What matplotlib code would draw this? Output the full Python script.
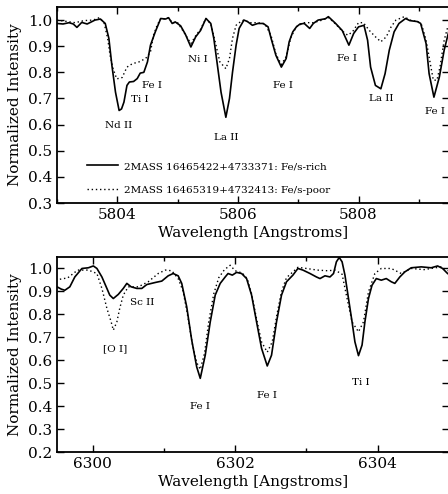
import matplotlib
matplotlib.use("Agg")
import matplotlib.pyplot as plt
from matplotlib.ticker import MultipleLocator

plt.rcParams['font.family'] = ['DejaVu Serif']

# ---------------- Top panel data ----------------
top_rich_wl = [5803.00, 5803.10, 5803.20, 5803.27, 5803.33, 5803.41, 5803.50, 5803.63, 5803.72, 5803.80,
               5803.86, 5803.91, 5803.97, 5804.03, 5804.07, 5804.11, 5804.16, 5804.20, 5804.27, 5804.33,
               5804.38, 5804.44, 5804.50, 5804.55, 5804.63, 5804.72, 5804.80, 5804.85, 5804.91, 5804.96,
               5805.05, 5805.13, 5805.22, 5805.30, 5805.38, 5805.47, 5805.55, 5805.60, 5805.66, 5805.72,
               5805.80, 5805.86, 5805.91, 5805.97, 5806.02, 5806.10, 5806.16, 5806.24, 5806.33, 5806.42,
               5806.50, 5806.55, 5806.63, 5806.72, 5806.80, 5806.85, 5806.91, 5806.97, 5807.03, 5807.10,
               5807.19, 5807.25, 5807.33, 5807.45, 5807.50, 5807.62, 5807.73, 5807.84, 5807.92, 5808.00,
               5808.09, 5808.15, 5808.20, 5808.28, 5808.37, 5808.44, 5808.51, 5808.59, 5808.67, 5808.78,
               5808.85, 5808.98, 5809.03, 5809.12, 5809.17, 5809.25, 5809.34, 5809.42, 5809.50]
top_rich_int = [0.987, 0.985, 0.990, 0.985, 0.972, 0.991, 0.985, 1.000, 1.004, 0.987,
                0.930, 0.827, 0.724, 0.654, 0.660, 0.686, 0.750, 0.763, 0.765, 0.776,
                0.797, 0.800, 0.840, 0.904, 0.955, 1.006, 1.004, 1.009, 0.987, 0.993,
                0.978, 0.945, 0.897, 0.936, 0.960, 1.006, 0.987, 0.930, 0.827, 0.724,
                0.628, 0.700, 0.800, 0.904, 0.968, 1.000, 0.994, 0.980, 0.987, 0.987,
                0.974, 0.930, 0.865, 0.820, 0.853, 0.917, 0.955, 0.974, 0.985, 0.987,
                0.968, 0.987, 1.000, 1.005, 1.013, 0.987, 0.960, 0.904, 0.949, 0.974,
                0.980, 0.923, 0.820, 0.750, 0.737, 0.795, 0.885, 0.955, 0.987, 1.006,
                0.998, 0.994, 0.987, 0.910, 0.795, 0.705, 0.782, 0.885, 0.960]

top_poor_wl = [5803.00, 5803.15, 5803.30, 5803.45, 5803.60, 5803.70, 5803.78, 5803.84, 5803.88, 5803.93,
               5803.99, 5804.08, 5804.16, 5804.25, 5804.36, 5804.47, 5804.55, 5804.60, 5804.66, 5804.72,
               5804.80, 5804.85, 5804.91, 5805.00, 5805.10, 5805.22, 5805.30, 5805.38, 5805.47, 5805.55,
               5805.62, 5805.70, 5805.80, 5805.86, 5805.91, 5805.97, 5806.05, 5806.10, 5806.20, 5806.33,
               5806.45, 5806.55, 5806.63, 5806.72, 5806.80, 5806.88, 5806.97, 5807.10, 5807.25, 5807.40,
               5807.50, 5807.62, 5807.72, 5807.82, 5807.90, 5808.00, 5808.08, 5808.18, 5808.28, 5808.37,
               5808.46, 5808.54, 5808.62, 5808.76, 5808.85, 5808.98, 5809.05, 5809.12, 5809.18, 5809.24,
               5809.30, 5809.35, 5809.42, 5809.48]
top_poor_int = [1.000, 0.995, 0.990, 0.998, 1.000, 1.009, 0.990, 0.930, 0.865, 0.814,
                0.775, 0.780, 0.820, 0.833, 0.840, 0.853, 0.878, 0.942, 0.980, 1.006,
                1.004, 1.009, 0.990, 0.990, 0.955, 0.910, 0.940, 0.965, 1.006, 0.985,
                0.920, 0.840, 0.814, 0.853, 0.930, 0.980, 0.995, 1.000, 0.990, 0.990,
                0.985, 0.940, 0.870, 0.830, 0.860, 0.935, 0.975, 0.990, 0.990, 1.000,
                1.010, 0.985, 0.960, 0.942, 0.955, 0.990, 0.990, 0.960, 0.936, 0.917,
                0.936, 0.974, 1.000, 1.013, 1.000, 0.994, 0.980, 0.923, 0.846, 0.770,
                0.770, 0.820, 0.923, 0.974]

top_lines = ["Nd II", "Ti I", "Fe I", "Ni I", "La II", "Fe I", "Fe I", "La II", "Fe I"]
top_line_wl = [5804.03, 5804.37, 5804.58, 5805.33, 5805.80, 5806.75, 5807.81, 5808.37, 5809.26]
top_line_y = [0.596, 0.697, 0.750, 0.849, 0.550, 0.750, 0.853, 0.699, 0.651]

# ---------------- Bottom panel data ----------------
bot_rich_wl = [6299.50, 6299.56, 6299.61, 6299.68, 6299.75, 6299.85, 6299.94, 6300.01, 6300.06, 6300.13,
               6300.20, 6300.24, 6300.29, 6300.36, 6300.43, 6300.48, 6300.54, 6300.62, 6300.69, 6300.76,
               6300.88, 6300.97, 6301.06, 6301.13, 6301.20, 6301.25, 6301.32, 6301.39, 6301.46, 6301.51,
               6301.58, 6301.65, 6301.72, 6301.79, 6301.86, 6301.90, 6301.96, 6302.02, 6302.09, 6302.16,
               6302.23, 6302.30, 6302.37, 6302.45, 6302.51, 6302.58, 6302.65, 6302.72, 6302.81, 6302.88,
               6302.95, 6303.05, 6303.14, 6303.19, 6303.26, 6303.33, 6303.38, 6303.42, 6303.46, 6303.50,
               6303.54, 6303.59, 6303.64, 6303.68, 6303.73, 6303.78, 6303.82, 6303.87, 6303.92, 6303.98,
               6304.05, 6304.12, 6304.19, 6304.24, 6304.31, 6304.38, 6304.47, 6304.61, 6304.75, 6304.84,
               6304.91, 6304.98]
bot_rich_int = [0.920, 0.910, 0.905, 0.920, 0.963, 1.000, 1.003, 1.011, 1.000, 0.963,
                0.913, 0.884, 0.869, 0.887, 0.913, 0.935, 0.920, 0.913, 0.913, 0.930,
                0.939, 0.945, 0.968, 0.978, 0.968, 0.935, 0.833, 0.688, 0.571, 0.521,
                0.622, 0.767, 0.884, 0.935, 0.963, 0.978, 0.971, 0.983, 0.978, 0.956,
                0.884, 0.767, 0.652, 0.575, 0.622, 0.767, 0.884, 0.942, 0.971, 1.000,
                0.993, 0.978, 0.963, 0.956, 0.968, 0.963, 0.978, 1.029, 1.048, 1.029,
                0.971, 0.869, 0.767, 0.680, 0.620, 0.666, 0.767, 0.869, 0.927, 0.956,
                0.949, 0.956, 0.942, 0.935, 0.963, 0.985, 1.003, 1.007, 1.003, 1.011,
                1.000, 0.978]

bot_poor_wl = [6299.54, 6299.65, 6299.79, 6299.94, 6300.06, 6300.13, 6300.20, 6300.26, 6300.29, 6300.34,
               6300.38, 6300.43, 6300.50, 6300.64, 6300.78, 6300.92, 6301.02, 6301.11, 6301.20, 6301.27,
               6301.33, 6301.40, 6301.46, 6301.51, 6301.57, 6301.63, 6301.70, 6301.77, 6301.85, 6301.93,
               6302.00, 6302.10, 6302.17, 6302.23, 6302.30, 6302.37, 6302.45, 6302.52, 6302.58, 6302.65,
               6302.72, 6302.81, 6302.88, 6303.00, 6303.15, 6303.30, 6303.40, 6303.50, 6303.56, 6303.64,
               6303.73, 6303.80, 6303.87, 6303.96, 6304.05, 6304.19, 6304.33, 6304.47, 6304.65, 6304.89,
               6304.98]
bot_poor_int = [0.953, 0.959, 0.993, 0.993, 0.978, 0.913, 0.826, 0.767, 0.731, 0.767,
                0.826, 0.884, 0.920, 0.920, 0.942, 0.978, 0.993, 0.990, 0.956, 0.900,
                0.800, 0.670, 0.590, 0.560, 0.630, 0.770, 0.890, 0.960, 0.995, 1.014,
                0.990, 0.980, 0.955, 0.890, 0.780, 0.680, 0.635, 0.680, 0.790, 0.900,
                0.960, 0.985, 1.005, 1.000, 0.993, 0.990, 0.993, 0.975, 0.884, 0.767,
                0.724, 0.767, 0.898, 0.978, 1.000, 1.000, 0.978, 1.000, 0.995, 1.007,
                0.990]

bot_lines = ["[O I]", "Sc II", "Fe I", "Fe I", "Ti I"]
bot_line_wl = [6300.31, 6300.70, 6301.51, 6302.45, 6303.76]
bot_line_y = [0.649, 0.852, 0.397, 0.448, 0.502]

legend_labels = ["2MASS 16465422+4733371: Fe/s-rich",
                 "2MASS 16465319+4732413: Fe/s-poor"]

# ---------------- Figure ----------------
W, H = 448, 494
fig = plt.figure(figsize=(W / 100, H / 100), dpi=100)

def frac(x0, y0, x1, y1):
    return [x0 / W, 1 - y1 / H, (x1 - x0) / W, (y1 - y0) / H]

ax1 = fig.add_axes(frac(57, 7, 449, 203))
ax2 = fig.add_axes(frac(57, 257, 449, 452))

def style(ax):
    ax.tick_params(which='both', direction='in', top=True, right=True, labelsize=11)
    ax.tick_params(which='major', length=5, width=1)
    ax.tick_params(which='minor', length=3, width=1)
    for s in ax.spines.values():
        s.set_linewidth(1.3)
    ax.xaxis.set_major_locator(MultipleLocator(2))
    ax.xaxis.set_minor_locator(MultipleLocator(1))
    ax.yaxis.set_major_locator(MultipleLocator(0.1))
    ax.set_xlabel("Wavelength [Angstroms]", fontsize=11, labelpad=3)
    ax.set_ylabel("Normalized Intensity", fontsize=11, labelpad=4)
    ax.xaxis.get_major_formatter().set_useOffset(False)

ax1.plot(top_rich_wl, top_rich_int, color='black', lw=1.2, ls='-', label=legend_labels[0])
ax1.plot(top_poor_wl, top_poor_int, color='black', lw=1.0, ls=(0, (1, 2)), label=legend_labels[1])
ax1.set_xlim(5803.0, 5809.5)
ax1.set_ylim(0.3, 1.05)
style(ax1)
ax1.set_yticks([0.3, 0.4, 0.5, 0.6, 0.7, 0.8, 0.9, 1.0])
ax1.set_yticklabels(["0.3", "0.4", "0.5", "0.6", "0.7", "0.8", "0.9", "1.0"])
for t, x, y in zip(top_lines, top_line_wl, top_line_y):
    ax1.text(x, y, t, ha='center', va='center', fontsize=7.5)
ax1.legend(loc='lower left', bbox_to_anchor=(0.065, 0.02), frameon=False, fontsize=7.5,
           handlelength=3.0, labelspacing=1.4, handletextpad=0.6, borderaxespad=0)

ax2.plot(bot_rich_wl, bot_rich_int, color='black', lw=1.2, ls='-')
ax2.plot(bot_poor_wl, bot_poor_int, color='black', lw=1.0, ls=(0, (1, 2)))
ax2.set_xlim(6299.5, 6305.0)
ax2.set_ylim(0.2, 1.05)
style(ax2)
ax2.set_yticks([0.2, 0.3, 0.4, 0.5, 0.6, 0.7, 0.8, 0.9, 1.0])
ax2.set_yticklabels(["0.2", "0.3", "0.4", "0.5", "0.6", "0.7", "0.8", "0.9", "1.0"])
for t, x, y in zip(bot_lines, bot_line_wl, bot_line_y):
    ax2.text(x, y, t, ha='center', va='center', fontsize=7.5)

fig.savefig("out.png", dpi=100)
